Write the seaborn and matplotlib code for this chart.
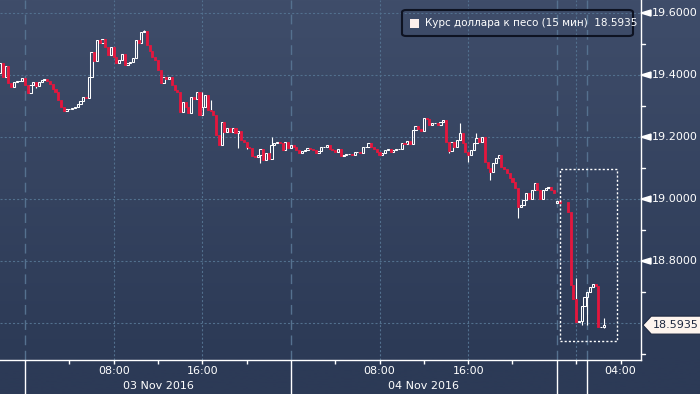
import numpy as np
import pandas as pd
import matplotlib
matplotlib.use('Agg')
import matplotlib.pyplot as plt
import matplotlib.transforms as mtransforms
from matplotlib.patches import Polygon, Rectangle, FancyBboxPatch
import seaborn as sns

nan = np.nan

# 15-minute candles, one per slot (slot 0 = 03 Nov 00:00), first slot is -9
first_slot = -9
closes = [
    19.439, 19.394, 19.429, 19.374, 19.361, 19.377, 19.381, 19.381, 19.390,
    19.368, 19.342, 19.368, 19.377, 19.364, 19.377, 19.384, 19.387, 19.381, 19.371,
    19.355, 19.345, 19.319, 19.297, 19.284, 19.290, 19.290, 19.294, 19.297, 19.306,
    19.316, 19.329, 19.326, 19.394, 19.474, 19.445, 19.513, 19.503, 19.516, 19.490,
    19.464, 19.490, 19.458, 19.439, 19.448, 19.468, 19.432, 19.439, 19.442, 19.455,
    19.513, 19.503, 19.539, 19.542, 19.497, 19.477, 19.458, 19.448, 19.416, 19.374,
    19.394, 19.387, 19.394, 19.368, 19.352, 19.345, 19.281, 19.313, 19.297, 19.277,
    19.329, 19.323, 19.345, 19.271, 19.297, 19.335, 19.287, 19.284, 19.271, 19.206,
    19.174, 19.248, 19.216, 19.229, 19.216, 19.229, 19.213, 19.219, 19.190, 19.184,
    19.168, 19.165, 19.139, 19.135, 19.142, 19.161, 19.126, 19.148, 19.129, 19.174,
    19.181, 19.184, 19.181, 19.158, 19.184, 19.165, 19.174, 19.168, 19.158, 19.148,
    19.155, 19.158, 19.165, 19.161, 19.158, 19.148, 19.155, 19.168, 19.168, 19.174,
    19.161, 19.158, 19.152, 19.161, 19.139, 19.142, 19.145, 19.145, 19.142, 19.152,
    19.152, 19.148, 19.168, 19.168, 19.181, 19.168, 19.161, 19.152, 19.142, 19.148,
    19.158, 19.161, 19.152, 19.158, 19.161, 19.161, 19.181, 19.177, 19.187, 19.177,
    19.223, 19.235, 19.226, 19.219, 19.261, 19.258, 19.239, 19.245, 19.245, 19.239,
    19.248, 19.255, 19.184, 19.155, 19.184, 19.168, 19.190, 19.213, 19.181, 19.152,
    19.142, 19.158, 19.181, 19.197, 19.184, 19.200, 19.119, 19.100, 19.087, 19.116,
    19.132, 19.142, 19.103, 19.097, 19.084, 19.068, 19.055, 19.035, 18.974, 18.981,
    18.997, 19.019, 19.000, 19.029, 19.052, 19.029, 19.000, 19.029, 19.035, 19.039,
    19.029, 19.019, 18.994, 18.987, nan, nan, 18.958, 18.723, 18.677, 18.603,
    18.606, 18.655, 18.684, 18.700, 18.716, 18.726, 18.719, 18.587, 18.587, 18.5935,
]
# opens differ from previous close only at session starts
open_fix = {-9: 19.406, 192: 18.987, 196: 18.990}
highs = {43: 19.545, 64: 19.345, 67: 19.319, 89: 19.200, 157: 19.245,
         163: 19.213, 199: 18.745, 209: 18.616}
lows = {4: 19.358, 77: 19.165, 80: 19.161, 85: 19.116, 153: 19.148, 160: 19.119,
        168: 19.061, 178: 18.939, 201: 18.593, 203: 18.593, 209: 18.584}

tick_slots = [32, 64, 128, 160, 215]
tick_labels = ['08:00', '16:00', '08:00', '16:00', '04:00']
minor_slots = [16, 48, 80, 112, 144, 176, 199]
vgrid_slots = [32, 64, 128, 160, 199]
day_breaks = [0, 96, 192, 203]
date_slots = [48, 144]
date_labels = ['03 Nov 2016', '04 Nov 2016']
y_major = [19.6, 19.4, 19.2, 19.0, 18.8]
y_minor = [19.5, 19.3, 19.1, 18.9, 18.7, 18.5]
y_grid = [19.6, 19.4, 19.2, 19.0, 18.8, 18.6]
last_price = 18.5935
legend_label = 'Курс доллара к песо (15 мин)'

# highlight box round the last session
box_x = (193.1, 213.7)
box_y = (18.542, 19.097)

RED = '#e3173e'
GRID = '#52708e'
BG_TOP = '#3f4d6a'
BG_BOT = '#2c3a56'

sns.set_theme(style='dark')
plt.rcParams['font.family'] = ['DejaVu Sans']
plt.rcParams['lines.scale_dashes'] = False

df = pd.DataFrame({'slot': np.arange(first_slot, first_slot + len(closes)),
                   'close': closes})
df['open'] = df['close'].shift(1)
for k, v in open_fix.items():
    df.loc[df.slot == k, 'open'] = v
df = df.dropna().reset_index(drop=True)
df['top'] = df[['open', 'close']].max(axis=1)
df['bot'] = df[['open', 'close']].min(axis=1)
df['high'] = [max(t, highs.get(s, t)) for s, t in zip(df.slot, df.top)]
df['low'] = [min(b, lows.get(s, b)) for s, b in zip(df.slot, df.bot)]
up = df[df.close >= df.open]
down = df[df.close < df.open]

fig = plt.figure(figsize=(7.0, 3.94), dpi=100)

# background gradient
bg = fig.add_axes([0, 0, 1, 1], zorder=-5)
c0 = np.array(matplotlib.colors.to_rgb(BG_TOP))
c1 = np.array(matplotlib.colors.to_rgb(BG_BOT))
t = np.clip(np.linspace(0, 1.1, 256), 0, 1)[:, None]
grad = c0 * (1 - t) + c1 * t
bg.imshow(grad[:, None, :], aspect='auto', extent=[0, 1, 0, 1])
bg.set_axis_off()

ax = fig.add_axes([0, 34 / 394, 641 / 700, 360 / 394])
ax.set_facecolor('none')
ax.set_xlim(-9.03, 222.4)
ax.set_ylim(18.481, 19.642)
for sp in ['top', 'left']:
    ax.spines[sp].set_visible(False)
for sp in ['right', 'bottom']:
    ax.spines[sp].set_color('white')
    ax.spines[sp].set_linewidth(1.0)

# grid
for v in y_grid:
    ax.axhline(v, color=GRID, lw=0.8, ls=(0, (1.5, 1.5)), zorder=1)
for s in vgrid_slots:
    ax.axvline(s, color=GRID, lw=0.8, ls=(0, (1.5, 1.5)), zorder=1)
for s in day_breaks:
    ax.axvline(s, color='#55718f', lw=1.0, ls=(0, (7, 4)), zorder=1)
blend = mtransforms.blended_transform_factory(ax.transData, ax.transAxes)
ax.vlines(day_breaks, -34 / 360, 0, transform=blend, color='white', lw=1.0,
          clip_on=False)

# candles
ax.vlines(df.slot, df.low, df.bot, color='white', lw=0.8, zorder=3)
ax.vlines(df.slot, df.top, df.high, color='white', lw=0.8, zorder=3)
ax.bar(up.slot, (up.close - up.open).clip(lower=0.0005), bottom=up.open,
       width=0.8, facecolor='none', edgecolor='white', linewidth=0.75, zorder=4)
ax.bar(down.slot, (down.open - down.close).clip(lower=0.002), bottom=down.close,
       width=0.75, color=RED, edgecolor=RED, linewidth=0.6, zorder=4)

ax.add_patch(Rectangle((box_x[0], box_y[0]), box_x[1] - box_x[0], box_y[1] - box_y[0],
                       fill=False, edgecolor='white', lw=1.0,
                       ls=(0, (1.5, 1.5)), zorder=5))

# x axis
ax.set_xticks(tick_slots, tick_labels)
ax.set_xticks(minor_slots, minor=True)
ax.tick_params(axis='x', which='both', direction='out', length=3, width=1,
               color='white', labelcolor='white', labelsize=8, pad=1.5,
               bottom=True)
for s, lab in zip(date_slots, date_labels):
    ax.text(s, -26 / 360, lab, transform=blend, ha='center', va='center',
            color='white', fontsize=8)

# y axis drawn by hand
ax.set_yticks([])
yblend = mtransforms.blended_transform_factory(ax.transAxes, ax.transData)
for v in y_major:
    ax.add_patch(Polygon([(1.0, v), (1.0156, v + 0.0097), (1.0156, v - 0.0097)],
                         closed=True, transform=yblend, color='white',
                         clip_on=False))
    ax.text(1.0172, v, f'{v:.4f}', transform=yblend, ha='left', va='center',
            color='white', fontsize=8)
for v in y_minor:
    ax.plot([1.0, 1.0065], [v, v], transform=yblend, color='white', lw=1,
            clip_on=False)

# last value flag
h = 0.029
ax.add_patch(Polygon([(1.003, last_price), (1.016, last_price + h),
                      (1.1, last_price + h), (1.1, last_price - h),
                      (1.016, last_price - h)], closed=True, transform=yblend,
                     facecolor='#fdf4ee', edgecolor='#1d2840', lw=0.8,
                     clip_on=False, zorder=6))
ax.text(1.019, last_price, f'{last_price:.4f}', transform=yblend, ha='left',
        va='center', color='#1d2840', fontsize=8, zorder=7)

# legend
fig.patches.append(FancyBboxPatch((402 / 700, 1 - 36 / 394), 231 / 700, 26 / 394,
                                  boxstyle='round,pad=0,rounding_size=0.006',
                                  transform=fig.transFigure, facecolor='none',
                                  edgecolor='#0e1322', lw=1.5))
fig.patches.append(Rectangle((410 / 700, 1 - 28 / 394), 9 / 700, 9 / 394,
                             transform=fig.transFigure, facecolor='#fdf0ec',
                             edgecolor='none'))
fig.text(425 / 700, 1 - 23 / 394, f'{legend_label}  {last_price:.4f}',
         ha='left', va='center', color='white', fontsize=7.5)

fig.savefig('out.png', dpi=100)
